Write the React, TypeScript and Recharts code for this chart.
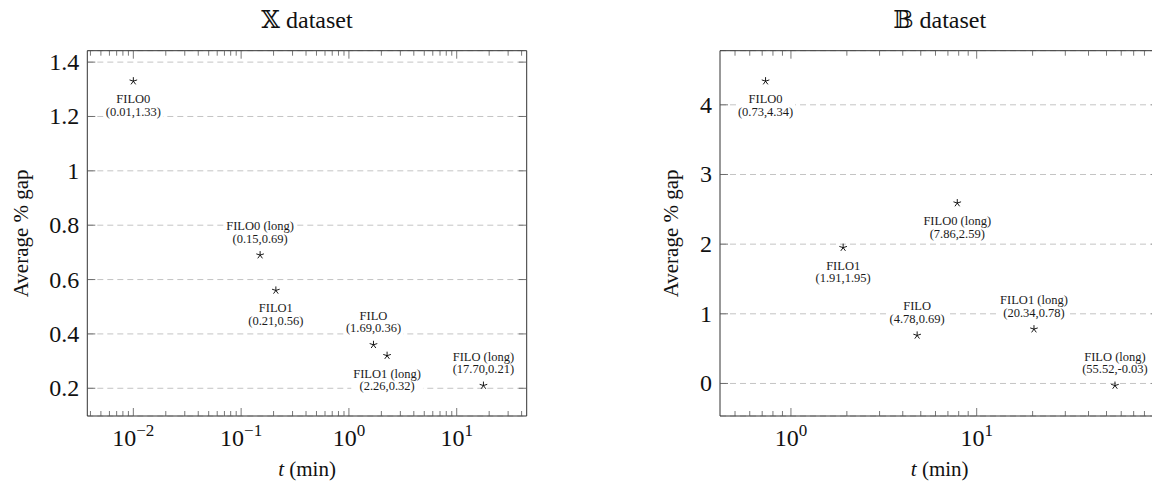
import React from 'react';
import { ScatterChart, Scatter, XAxis, YAxis, CartesianGrid, ReferenceArea } from 'recharts';

// ---------- data ----------
const xMethods = ['FILO0', 'FILO0 (long)', 'FILO1', 'FILO', 'FILO1 (long)', 'FILO (long)'];
const xTimes = [0.01, 0.15, 0.21, 1.69, 2.26, 17.7];
const xGaps = [1.33, 0.69, 0.56, 0.36, 0.32, 0.21];
const xLabelSide = ['below', 'above', 'below', 'above', 'below', 'above'];

const bMethods = ['FILO0', 'FILO0 (long)', 'FILO1', 'FILO', 'FILO1 (long)', 'FILO (long)'];
const bTimes = [0.73, 7.86, 1.91, 4.78, 20.34, 55.52];
const bGaps = [4.34, 2.59, 1.95, 0.69, 0.78, -0.03];
const bLabelSide = ['below', 'below', 'below', 'above', 'above', 'above'];

const xYTicks = [0.2, 0.4, 0.6, 0.8, 1, 1.2, 1.4];
const bYTicks = [0, 1, 2, 3, 4];
const xXTicks = [
  0.004, 0.005, 0.006, 0.007, 0.008, 0.009, 0.01,
  0.02, 0.03, 0.04, 0.05, 0.06, 0.07, 0.08, 0.09, 0.1,
  0.2, 0.3, 0.4, 0.5, 0.6, 0.7, 0.8, 0.9, 1,
  2, 3, 4, 5, 6, 7, 8, 9, 10,
  20, 30, 40,
];
const bXTicks = [
  0.5, 0.6, 0.7, 0.8, 0.9, 1,
  2, 3, 4, 5, 6, 7, 8, 9, 10,
  20, 30, 40, 50, 60, 70, 80, 90,
];
const xXDomain = [0.00374, 44.6];
const xYDomain = [0.098, 1.442];
const bXDomain = [0.415, 96.3];
const bYDomain = [-0.467, 4.777];

// ---------- style ----------
const FONT = "'Liberation Serif', 'DejaVu Serif', serif";
const FRAME = '#333333';
const TICK = '#555555';
const H = 483;
const T = 50.7;
const B = 416;
const Y_AXIS_W = 60;
const X_AXIS_H = 40;
const TICK_FS = 24;
const SUP_FS = 17;
const AXIS_FS = 21;
const TITLE_FS = 24;
const LABEL_FS = 12.5;

const charW: Record<string, number> = {
  '0': 0.5, '1': 0.5, '2': 0.5, '3': 0.5, '4': 0.5, '5': 0.5, '6': 0.5, '7': 0.5, '8': 0.5, '9': 0.5,
  '.': 0.25, ',': 0.25, '(': 0.333, ')': 0.333, '-': 0.333, ' ': 0.25,
  F: 0.556, I: 0.333, L: 0.611, O: 0.722, l: 0.278, o: 0.5, n: 0.5, g: 0.5,
};
const textWidth = (s: string, fs: number) =>
  s.split('').reduce((a, c) => a + (charW[c] ?? 0.5), 0) * fs;

const isMajor = (v: number) => Math.abs(Math.log10(v) - Math.round(Math.log10(v))) < 1e-9;

const makeStar = (side: string[]) => (props: any) => {
  const { cx, cy, payload, index } = props;
  if (cx == null || cy == null) return <g />;
  const r = 4;
  let d = '';
  for (let k = 0; k < 5; k++) {
    const a = ((-90 + 72 * k) * Math.PI) / 180;
    d += `M${cx},${cy}L${cx + r * Math.cos(a)},${cy + r * Math.sin(a)}`;
  }
  const l1 = payload.name as string;
  const l2 = `(${payload.x.toFixed(2)},${payload.y.toFixed(2)})`;
  const s = side[payload.idx ?? index];
  const b1 = s === 'below' ? cy + 22 : cy - 25;
  const b2 = b1 + 12.5;
  const w = Math.max(textWidth(l1, LABEL_FS), textWidth(l2, LABEL_FS)) + 4;
  return (
    <g>
      <rect x={cx - w / 2} y={b1 - 10} width={w} height={b2 - b1 + 13} fill="#fff" />
      <text x={cx} y={b1} textAnchor="middle" fontFamily={FONT} fontSize={LABEL_FS} fill="#1a1a1a">{l1}</text>
      <text x={cx} y={b2} textAnchor="middle" fontFamily={FONT} fontSize={LABEL_FS} fill="#1a1a1a">{l2}</text>
      <path d={d} stroke="#000" strokeWidth={0.9} fill="none" />
    </g>
  );
};

const XTick = (props: any) => {
  const { x, y, payload, plotH } = props;
  const v = payload.value as number;
  const major = isMajor(v);
  const len = major ? 8 : 5;
  const exp = Math.round(Math.log10(v));
  const expStr = exp < 0 ? `\u2212${-exp}` : `${exp}`;
  return (
    <g>
      <line x1={x} x2={x} y1={y} y2={y - len} stroke={TICK} strokeWidth={0.8} />
      <line x1={x} x2={x} y1={y - plotH} y2={y - plotH + len} stroke={TICK} strokeWidth={0.8} />
      {major && (
        <text x={x} y={y + 30} textAnchor="middle" fontFamily={FONT} fontSize={TICK_FS} fill="#111">
          <tspan>10</tspan>
          <tspan dy={-10} fontSize={SUP_FS}>{expStr}</tspan>
        </text>
      )}
    </g>
  );
};

const YTick = (props: any) => {
  const { x, y, payload, plotW } = props;
  const v = payload.value as number;
  return (
    <g>
      <line x1={x} x2={x + 8} y1={y} y2={y} stroke={TICK} strokeWidth={0.8} />
      <line x1={x + plotW} x2={x + plotW - 8} y1={y} y2={y} stroke={TICK} strokeWidth={0.8} />
      <text x={x - 8} y={y} textAnchor="end" dominantBaseline="central" fontFamily={FONT} fontSize={TICK_FS} fill="#111">
        {String(v)}
      </text>
    </g>
  );
};

type PanelProps = {
  left: number;
  width: number;
  plotL: number;
  plotR: number;
  title: string;
  yLabelX: number;
  names: string[];
  times: number[];
  gaps: number[];
  side: string[];
  xDomain: number[];
  yDomain: number[];
  xTicks: number[];
  yTicks: number[];
};

function Panel(p: PanelProps) {
  const plotH = B - T;
  const plotW = p.plotR - p.plotL;
  const data = p.names.map((n, i) => ({ name: n, x: p.times[i], y: p.gaps[i], idx: i }));
  const margin = {
    top: T,
    left: p.plotL - Y_AXIS_W,
    right: p.width - p.plotR,
    bottom: H - B - X_AXIS_H,
  };
  const cx = (p.plotL + p.plotR) / 2;
  return (
    <div style={{ position: 'absolute', left: p.left, top: 0, width: p.width, height: H }}>
      <ScatterChart width={p.width} height={H} margin={margin}>
        <CartesianGrid horizontal vertical={false} stroke="#c4c4c4" strokeDasharray="6 4" strokeWidth={1} />
        <XAxis
          dataKey="x"
          type="number"
          scale="log"
          domain={p.xDomain}
          allowDataOverflow
          ticks={p.xTicks}
          interval={0}
          tickLine={false}
          axisLine={false}
          tickSize={0}
          tickMargin={0}
          height={X_AXIS_H}
          tick={(tp: any) => <XTick {...tp} plotH={plotH} />}
        />
        <YAxis
          dataKey="y"
          type="number"
          domain={p.yDomain}
          allowDataOverflow
          ticks={p.yTicks}
          interval={0}
          tickLine={false}
          axisLine={false}
          tickSize={0}
          tickMargin={0}
          width={Y_AXIS_W}
          tick={(tp: any) => <YTick {...tp} plotW={plotW} />}
        />
        <ReferenceArea
          x1={p.xDomain[0]}
          x2={p.xDomain[1]}
          y1={p.yDomain[0]}
          y2={p.yDomain[1]}
          fill="none"
          fillOpacity={0}
          stroke={FRAME}
          strokeWidth={1}
          ifOverflow="visible"
        />
        <Scatter data={data} isAnimationActive={false} shape={makeStar(p.side)} />
      </ScatterChart>
      <svg
        width={p.width}
        height={H}
        style={{ position: 'absolute', left: 0, top: 0, pointerEvents: 'none', overflow: 'visible' }}
      >
        <text x={cx} y={28} textAnchor="middle" fontFamily={FONT} fontSize={TITLE_FS} fill="#111">
          {p.title}
        </text>
        <text x={cx} y={476} textAnchor="middle" fontFamily={FONT} fontSize={AXIS_FS} fill="#111">
          <tspan fontStyle="italic">t</tspan>
          <tspan> (min)</tspan>
        </text>
        <text
          x={p.yLabelX}
          y={(T + B) / 2}
          textAnchor="middle"
          dominantBaseline="central"
          fontFamily={FONT}
          fontSize={AXIS_FS}
          fill="#111"
          transform={`rotate(-90 ${p.yLabelX} ${(T + B) / 2})`}
        >
          Average % gap
        </text>
      </svg>
    </div>
  );
}

export default function App() {
  return (
    <div
      style={{
        position: 'absolute',
        left: 0,
        top: 0,
        width: 1152,
        height: H,
        overflow: 'hidden',
        background: '#fff',
      }}
    >
      <Panel
        left={0}
        width={560}
        plotL={87.3}
        plotR={526.7}
        title={'\u{1D54F} dataset'}
        yLabelX={21}
        names={xMethods}
        times={xTimes}
        gaps={xGaps}
        side={xLabelSide}
        xDomain={xXDomain}
        yDomain={xYDomain}
        xTicks={xXTicks}
        yTicks={xYTicks}
      />
      <Panel
        left={600}
        width={580}
        plotL={120}
        plotR={559.4}
        title={'\u{1D539} dataset'}
        yLabelX={71}
        names={bMethods}
        times={bTimes}
        gaps={bGaps}
        side={bLabelSide}
        xDomain={bXDomain}
        yDomain={bYDomain}
        xTicks={bXTicks}
        yTicks={bYTicks}
      />
    </div>
  );
}
